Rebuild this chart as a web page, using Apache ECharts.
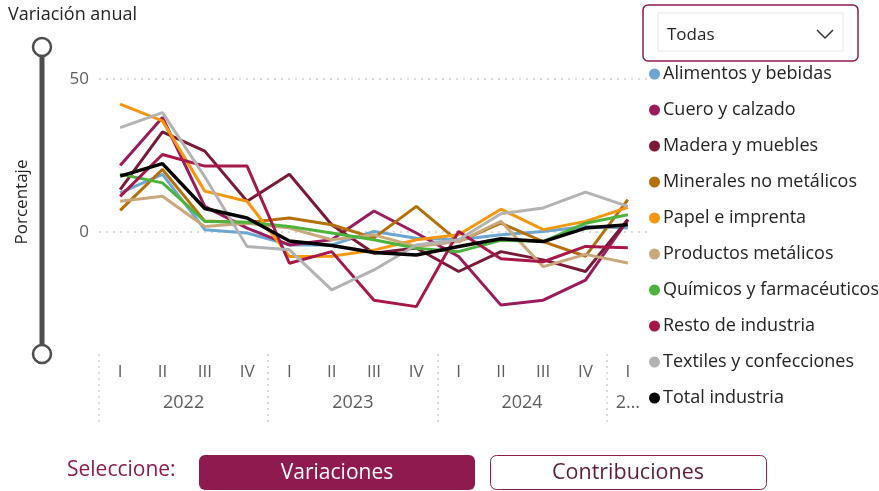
<!DOCTYPE html>
<html>
<head>
<meta charset="utf-8">
<title>Variación anual</title>
<script src="https://cdn.jsdelivr.net/npm/echarts@6/dist/echarts.min.js"></script>
<style>
  html, body { margin: 0; padding: 0; background: #fff; }
  #main { width: 879px; height: 491px; }
</style>
</head>
<body>
<div id="main"></div>
<script>
// trimestres y años del eje
var quarters = ['I','II','III','IV','I','II','III','IV','I','II','III','IV','I'];
var yearSlots = ['', '', '', '', '2022', '', '', '', '', '', '', '', '2023', '', '', '', '', '', '', '', '2024', '', '', '', '', '2…', ''];

// variación anual (%) por rama
var alimentos  = [12.7, 18.8, 0.7, -0.4, -4.3, -4.3, 0.1, -2.1, -2.6, -1, 0.1, 1.7, 1.2];
var cuero      = [21.7, 37.4, 8.3, 1.2, -4.3, -2.6, 6.8, -0.4, -8.1, -24, -22.4, -15.8, 3.9];
var madera     = [13.8, 32.7, 26.4, 10, 18.8, 2.3, -7, -5.3, -13, -6.5, -9.2, -13, 4];
var minerales  = [7, 20.4, 3.5, 3, 4.5, 2.3, -2, 8.3, -3.2, 2.8, -3.2, -8, 10.5];
var papel      = [41.8, 36.3, 13.3, 10, -8.1, -8, -6, -2.6, -1, 7.4, 0.7, 3.4, 8];
var productos  = [10, 11.6, 1.7, 2.8, 1.2, -2.6, -1, -4.8, -3.2, 3.4, -11.4, -7.4, -10.2];
var quimicos   = [18.8, 16, 3.4, 3.1, 1.7, -0.4, -2.6, -5.4, -6.5, -2.8, -3.2, 2.8, 5.6];
var resto      = [11.6, 25.3, 21.5, 21.5, -10.3, -6.5, -22.4, -24.5, 0.1, -8.8, -9.8, -4.8, -5.2];
var textiles   = [34.1, 39, 18, -4.8, -5.9, -19, -12.5, -4.3, -2.6, 5.9, 7.8, 13, 8.3];
var total      = [18.2, 22.3, 7.6, 4.5, -3, -4.5, -6.8, -7.6, -4.8, -2.3, -3.2, 1.2, 2.3];

var names  = ['Alimentos y bebidas','Cuero y calzado','Madera y muebles','Minerales no metálicos','Papel e imprenta','Productos metálicos','Químicos y farmacéuticos','Resto de industria','Textiles y confecciones','Total industria'];
var values = [alimentos, cuero, madera, minerales, papel, productos, quimicos, resto, textiles, total];
var colors = ['#6ca6d2','#9b1c5c','#7a1a37','#b5700c','#f7970e','#c9a97c','#4db33d','#a7184a','#b3b3b3','#000000'];

var FONT = '"Open Sans", "Noto Sans", sans-serif';
var MAROON = '#8e1a50';

var myChart = echarts.init(document.getElementById('main'));

var series = names.map(function (n, i) {
  var s = {
    name: n,
    type: 'line',
    data: values[i],
    xAxisIndex: 0,
    symbol: 'none',
    lineStyle: { width: i === 9 ? 3.5 : 3, color: colors[i] },
    itemStyle: { color: colors[i] },
    emphasis: { disabled: true }
  };
  if (i === 9) {
    s.markLine = {
      silent: true,
      z: 1,
      symbol: ['none', 'none'],
      label: { show: false },
      lineStyle: { color: '#d9d9d9', type: [2, 5], width: 2 },
      data: [{ yAxis: 0 }, { yAxis: 50 }]
    };
  }
  return s;
});

var option = {
  animation: false,
  color: colors,
  textStyle: { fontFamily: FONT },
  grid: { left: 99, right: 230, top: 79, bottom: 137 },
  legend: {
    orient: 'vertical',
    left: 644,
    top: 57,
    icon: 'circle',
    itemWidth: 11,
    itemHeight: 11,
    itemGap: 12,
    textStyle: { fontSize: 18, color: '#252423', lineHeight: 24, fontFamily: FONT, padding: [0, 0, 0, -2] },
    data: names
  },
  xAxis: [
    {
      type: 'category',
      position: 'bottom',
      data: quarters,
      boundaryGap: true,
      axisLine: { show: false },
      axisTick: { show: false },
      axisLabel: { interval: 0, margin: 10, fontSize: 17, color: '#605e5c' }
    },
    {
      type: 'category',
      position: 'bottom',
      data: yearSlots,
      boundaryGap: false,
      axisLine: { show: false },
      axisTick: {
        show: true,
        length: 68,
        interval: function (idx) { return idx % 8 === 0; },
        lineStyle: { color: '#d0d0d0', type: [2, 4], width: 1.5 }
      },
      axisLabel: { interval: 0, margin: 40, fontSize: 18, color: '#605e5c' }
    }
  ],
  yAxis: {
    type: 'value',
    min: -40,
    max: 50,
    interval: 10,
    axisLine: { show: false },
    axisTick: { show: false },
    splitLine: { show: false },
    axisLabel: {
      margin: 10,
      fontSize: 17,
      color: '#605e5c',
      formatter: function (v) { return (v === 0 || v === 50) ? String(v) : ''; }
    }
  },
  graphic: [
    { type: 'text', left: 8, top: 6, style: { text: 'Variación anual', fontSize: 18, fontFamily: FONT, fill: '#252423' } },
    // deslizador vertical
    { type: 'line', shape: { x1: 42, y1: 47, x2: 42, y2: 354 }, style: { stroke: '#4d4d4d', lineWidth: 5 } },
    { type: 'circle', shape: { cx: 42, cy: 47, r: 9 }, style: { fill: '#fff', stroke: '#4d4d4d', lineWidth: 2.5 } },
    { type: 'circle', shape: { cx: 42, cy: 354, r: 9 }, style: { fill: '#fff', stroke: '#4d4d4d', lineWidth: 2.5 } },
    { type: 'text', x: 22, y: 202, rotation: Math.PI / 2,
      style: { text: 'Porcentaje', fontSize: 17, fontFamily: FONT, fill: '#252423', align: 'center', verticalAlign: 'middle' } },
    // selector
    { type: 'rect', shape: { x: 643, y: 5, width: 215, height: 56, r: 5 }, style: { fill: '#fff', stroke: MAROON, lineWidth: 1.5 } },
    { type: 'rect', shape: { x: 658, y: 13, width: 185, height: 38 }, style: { fill: '#fff', stroke: '#e6e6e6', lineWidth: 1 } },
    { type: 'text', x: 667, y: 35, style: { text: 'Todas', fontSize: 17, fontFamily: FONT, fill: '#252423', verticalAlign: 'middle' } },
    { type: 'polyline', shape: { points: [[817, 30], [825, 38], [833, 30]] }, style: { stroke: '#333', lineWidth: 1.5, fill: null } },
    // botones
    { type: 'text', x: 67, y: 470, style: { text: 'Seleccione:', fontSize: 21, fontFamily: FONT, fill: MAROON, verticalAlign: 'middle' } },
    { type: 'rect', shape: { x: 199, y: 455, width: 276, height: 35, r: 6 }, style: { fill: MAROON } },
    { type: 'text', x: 337, y: 473, style: { text: 'Variaciones', fontSize: 21, fontFamily: FONT, fill: '#fff', align: 'center', verticalAlign: 'middle' } },
    { type: 'rect', shape: { x: 490.5, y: 455.5, width: 276, height: 34, r: 6 }, style: { fill: '#fff', stroke: MAROON, lineWidth: 1 } },
    { type: 'text', x: 628, y: 473, style: { text: 'Contribuciones', fontSize: 21.5, fontFamily: FONT, fill: '#5e1d3f', align: 'center', verticalAlign: 'middle' } }
  ],
  series: series
};

myChart.setOption(option);
window.onresize = myChart.resize;
</script>
</body>
</html>
